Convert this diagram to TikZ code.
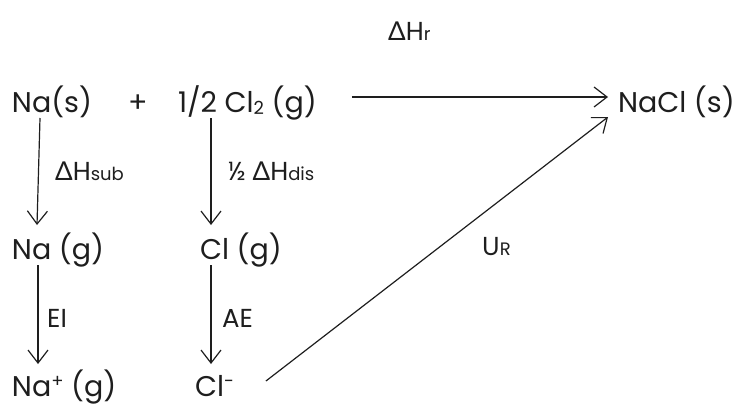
\documentclass[tikz,border=0pt]{standalone}
\usepackage{fontspec}
\setmainfont{Poppins}
\newfontfamily\grk{Lato}
\usepackage{tikz}
\usetikzlibrary{arrows.meta,positioning,calc}
\definecolor{ink}{HTML}{1E1E1E}
\newcommand{\dH}{{\grk Δ}H}
\newcommand{\sml}[1]{{\fontsize{18}{18}\selectfont #1}}
\newcommand{\lowr}[1]{\raisebox{-2pt}{\fontsize{18}{18}\selectfont #1}}
\newcommand{\upr}[1]{\raisebox{9pt}{\fontsize{18}{18}\selectfont #1}}

\begin{document}
\begin{tikzpicture}[x=1pt,y=-1pt,>={Straight Barb[length=13pt,width=20pt]}]
  \tikzstyle{chem}=[inner sep=0pt,outer sep=0pt,anchor=base west,text=ink,font=\fontsize{28.5}{34}\selectfont]
  \tikzstyle{lbl}=[inner sep=0pt,anchor=base west,text=ink,font=\fontsize{26}{30}\selectfont]
  \tikzstyle{arr}=[->,draw=ink,line width=1.2pt]
  \useasboundingbox (0,0) rectangle (743,405);
  % species
  \node[chem] (nas) at (12,112) {Na(s)};
  \node[chem] (plus) at (128,112) {+};
  \node[chem] (cl2) at (178,112) {1/2 Cl\lowr{2} (g)};
  \node[chem] (nacl) at (618,112) {NaCl (s)};
  \node[chem] (nag) at (12,259) {Na (g)};
  \node[chem] (clg) at (200,259) {Cl (g)};
  \node[chem] (nap) at (12,396) {Na\upr{+} (g)};
  \node[chem] (clm) at (195,396) {Cl\upr{-}};
  % labels
  \node[lbl] (dhr) at (388,40) {\dH\sml{r}};
  \node[lbl] (dhsub) at (55,180) {\dH\sml{sub}};
  \node[lbl] (dhdis) at (228,180) {½ \dH\sml{dis}};
  \node[lbl] (ei) at (47,327) {EI};
  \node[lbl] (ae) at (222,327) {AE};
  \node[lbl] (ur) at (482,255) {U\sml{R}};
  % arrows
  \draw[arr] ([xshift=28pt,yshift=-6pt]nas.base west) -- ([xshift=25pt,yshift=34pt]nag.base west);
  \draw[arr] ([xshift=33pt,yshift=-6pt]cl2.base west) -- ([xshift=11pt,yshift=34pt]clg.base west);
  \draw[arr] ([xshift=26pt,yshift=-6pt]nag.base west) -- ([xshift=26pt,yshift=32pt]nap.base west);
  \draw[arr] ([xshift=11pt,yshift=-6pt]clg.base west) -- ([xshift=16pt,yshift=32pt]clm.base west);
  \draw[arr] ([xshift=35pt,yshift=15pt]cl2.base east) -- ([xshift=-10pt,yshift=15pt]nacl.base west);
  \draw[arr] ([xshift=32pt,yshift=15pt]clm.base east) -- ([xshift=-10pt,yshift=-5pt]nacl.base west);
\end{tikzpicture}
\end{document}
